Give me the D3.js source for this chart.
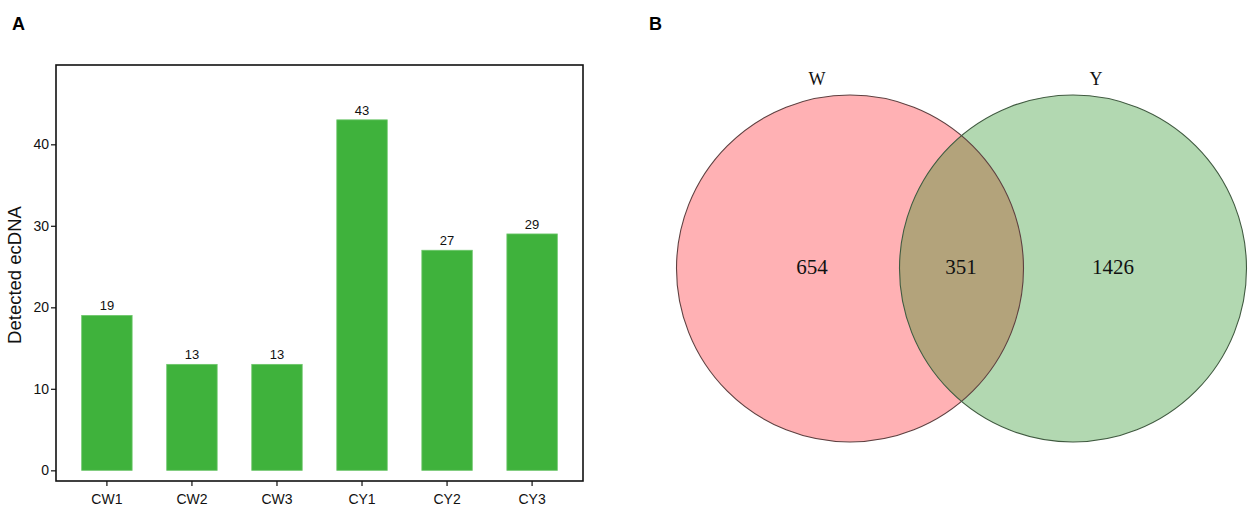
<!DOCTYPE html>
<html>
<head>
<meta charset="utf-8">
<script src="https://cdn.jsdelivr.net/npm/d3@7/dist/d3.min.js"></script>
<style>
  html, body { margin: 0; padding: 0; background: #fff; }
  svg { display: block; }
</style>
</head>
<body>
<svg id="chart" width="1259" height="516"></svg>
<script>
// ---- Data ----
const categories = ["CW1", "CW2", "CW3", "CY1", "CY2", "CY3"];
const detected = [19, 13, 13, 43, 27, 29];
const yTicks = [0, 10, 20, 30, 40];
const yTitle = "Detected ecDNA";

const vennSets = ["W", "Y"];
const vennCounts = [654, 351, 1426]; // W only, W∩Y, Y only

// ---- Setup ----
const svg = d3.select("#chart");
const sans = "'Liberation Sans', Arial, sans-serif";
const serif = "'Liberation Serif', 'Times New Roman', serif";

// Panel labels
svg.append("text").attr("x", 12).attr("y", 30).attr("font-family", sans)
  .attr("font-weight", "bold").attr("font-size", 18).text("A");
svg.append("text").attr("x", 649).attr("y", 30).attr("font-family", sans)
  .attr("font-weight", "bold").attr("font-size", 18).text("B");

// ---- Panel A: bar chart ----
const box = { left: 56, right: 583, top: 65, bottom: 481 };

const x = d3.scaleBand()
  .domain(categories)
  .range([box.left, box.right])
  .paddingInner(0.407)
  .paddingOuter(0.302);

const y = d3.scaleLinear()
  .domain([-1.31, 49.73])
  .range([box.bottom, box.top]);

const gA = svg.append("g");

gA.selectAll("rect.bar")
  .data(categories)
  .enter().append("rect")
  .attr("class", "bar")
  .attr("x", d => x(d))
  .attr("width", x.bandwidth())
  .attr("y", (d, i) => y(detected[i]))
  .attr("height", (d, i) => y(0) - y(detected[i]))
  .attr("fill", "#3fb23c")
  .attr("stroke", "#6cc66a")
  .attr("stroke-width", 0.8);

gA.selectAll("text.val")
  .data(categories)
  .enter().append("text")
  .attr("class", "val")
  .attr("x", d => x(d) + x.bandwidth() / 2)
  .attr("y", (d, i) => y(detected[i]) - 5)
  .attr("text-anchor", "middle")
  .attr("font-family", sans)
  .attr("font-size", 13)
  .attr("fill", "#111")
  .text((d, i) => detected[i]);

// Axes
const yAxis = d3.axisLeft(y).tickValues(yTicks).tickSize(5).tickPadding(2).tickSizeOuter(0);
const gy = gA.append("g").attr("transform", `translate(${box.left},0)`).call(yAxis);
gy.select(".domain").remove();
gy.selectAll("text").attr("font-family", sans).attr("font-size", 14).attr("fill", "#111");
gy.selectAll("line").attr("stroke", "#222").attr("stroke-width", 1.3);

const xAxis = d3.axisBottom(x).tickSize(5).tickPadding(8).tickSizeOuter(0);
const gx = gA.append("g").attr("transform", `translate(0,${box.bottom})`).call(xAxis);
gx.select(".domain").remove();
gx.selectAll("text").attr("font-family", sans).attr("font-size", 14).attr("fill", "#111");
gx.selectAll("line").attr("stroke", "#222").attr("stroke-width", 1.3);

// Panel border
gA.append("rect")
  .attr("x", box.left).attr("y", box.top)
  .attr("width", box.right - box.left).attr("height", box.bottom - box.top)
  .attr("fill", "none").attr("stroke", "#111").attr("stroke-width", 1.6);

// Y title
gA.append("text")
  .attr("transform", `translate(21,${(box.top + box.bottom) / 2 + 2}) rotate(-90)`)
  .attr("text-anchor", "middle")
  .attr("font-family", sans)
  .attr("font-size", 18.5)
  .attr("fill", "#111")
  .text(yTitle);

// ---- Panel B: Venn diagram ----
const venn = { cxL: 850, cxR: 1073, cy: 268.5, r: 173.5 };
const circles = [
  { name: vennSets[0], cx: venn.cxL, fill: "#ffb1b4", stroke: "#5e4040" },
  { name: vennSets[1], cx: venn.cxR, fill: "#b2d8b1", stroke: "#405a40" }
];

const gB = svg.append("g");
const defs = svg.append("defs");
defs.append("clipPath").attr("id", "clipR")
  .append("circle").attr("cx", circles[1].cx).attr("cy", venn.cy).attr("r", venn.r);

gB.selectAll("circle.fill")
  .data(circles)
  .enter().append("circle")
  .attr("class", "fill")
  .attr("cx", d => d.cx).attr("cy", venn.cy).attr("r", venn.r)
  .attr("fill", d => d.fill);

// Intersection lens
gB.append("circle")
  .attr("cx", circles[0].cx).attr("cy", venn.cy).attr("r", venn.r)
  .attr("clip-path", "url(#clipR)")
  .attr("fill", "#b3a37b");

gB.selectAll("circle.outline")
  .data(circles)
  .enter().append("circle")
  .attr("class", "outline")
  .attr("cx", d => d.cx).attr("cy", venn.cy).attr("r", venn.r)
  .attr("fill", "none")
  .attr("stroke", d => d.stroke)
  .attr("stroke-width", 1.1);

// Set names
const nameX = [817, 1096];
gB.selectAll("text.setname")
  .data(circles)
  .enter().append("text")
  .attr("class", "setname")
  .attr("x", (d, i) => nameX[i])
  .attr("y", 85)
  .attr("text-anchor", "middle")
  .attr("font-family", serif)
  .attr("font-size", 18)
  .attr("fill", "#111")
  .text(d => d.name);

// Counts
const countX = [812, 961, 1113];
gB.selectAll("text.count")
  .data(vennCounts)
  .enter().append("text")
  .attr("class", "count")
  .attr("x", (d, i) => countX[i])
  .attr("y", 274)
  .attr("text-anchor", "middle")
  .attr("font-family", serif)
  .attr("font-size", 21)
  .attr("fill", "#111")
  .text(d => d);
</script>
</body>
</html>
